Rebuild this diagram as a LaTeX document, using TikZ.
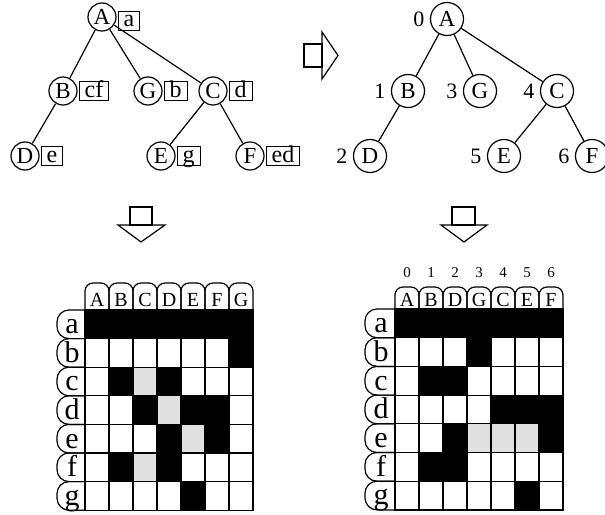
\documentclass[tikz,border=0pt]{standalone}
\usepackage{fontspec}
\setmainfont{Liberation Serif}
\usetikzlibrary{positioning}
\colorlet{cell0}{white}
\colorlet{cell1}{black}
\colorlet{cell2}{black!12}
\begin{document}
\begin{tikzpicture}[x=1pt,y=-1pt,line width=1.2pt,
    vtx/.style={circle,draw,fill=white,inner sep=0pt,minimum size=28pt,font=\fontsize{23}{23}\selectfont},
    bigvtx/.style={vtx,minimum size=33pt},
    tag/.style={draw,inner xsep=5.5pt,inner ysep=0.5pt,text height=15pt,text depth=3pt,font=\fontsize{24}{24}\selectfont},
    idx/.style={label={[inner sep=0pt,label distance=5pt,font=\fontsize{22}{22}\selectfont]left:#1}},
    hdr/.style={anchor=base,inner sep=0pt,font=\fontsize{20}{20}\selectfont},
    rowlbl/.style={anchor=base,inner sep=0pt,font=\fontsize{30}{30}\selectfont}]
    \useasboundingbox (0,0) rectangle (605,514);
    % original tree
    \node[vtx] (A) at (102,17) {A};
    \node[vtx] (B) at (63,91) {B};
    \node[vtx] (G) at (148,91) {G};
    \node[vtx] (C) at (213,91) {C};
    \node[vtx] (D) at (25,156) {D};
    \node[vtx] (E) at (161,156) {E};
    \node[vtx] (F) at (250,156) {F};
    \draw (A) -- (B) (A) -- (G) (A) -- (C) (B) -- (D) (C) -- (E) (C) -- (F);
    \node[tag,right=1pt of A,yshift=-4pt] (tA) {a};
    \node[tag,right=1pt of B] (tB) {cf};
    \node[tag,right=1pt of G] (tG) {b};
    \node[tag,right=1pt of C] (tC) {d};
    \node[tag,right=1pt of D] (tD) {e};
    \node[tag,right=1pt of E] (tE) {g};
    \node[tag,right=1pt of F] (tF) {ed};
    % numbered tree
    \node[bigvtx,idx=0] (nA) at (447,19) {A};
    \node[bigvtx,idx=1] (nB) at (408,91) {B};
    \node[bigvtx,idx=3] (nG) at (480,91) {G};
    \node[bigvtx,idx=4] (nC) at (557,91) {C};
    \node[bigvtx,idx=2] (nD) at (370,156) {D};
    \node[bigvtx,idx=5] (nE) at (504,156) {E};
    \node[bigvtx,idx=6] (nF) at (592,156) {F};
    \draw (nA) -- (nB) (nA) -- (nG) (nA) -- (nC) (nB) -- (nD) (nC) -- (nE) (nC) -- (nF);
    % arrows
    \draw (304,44) rectangle (322,67);
    \draw (322,32) -- (338,55.5) -- (322,79) -- cycle;
    \draw (130,207) rectangle (152,225);
    \draw (118,225) -- (141,242) -- (165,225) -- cycle;
    \draw (452,207) rectangle (475,225);
    \draw (441,225) -- (464,242) -- (487,225) -- cycle;
    % left matrix
    \begin{scope}[shift={(85,310)}]
        \foreach \row [count=\r] in {{1,1,1,1,1,1,1},{0,0,0,0,0,0,1},{0,1,2,1,0,0,0},
                {0,0,1,2,1,1,0},{0,0,0,1,2,1,0},{0,1,2,1,0,0,0},{0,0,0,0,1,0,0}}
            \foreach \v [count=\c] in \row
                \draw[fill=cell\v] ({24*(\c-1)},{28.6*(\r-1)}) rectangle ++(24,28.6);
        \foreach \t [count=\c] in {A,B,C,D,E,F,G}{
            \draw[rounded corners=8pt] ({24*(\c-1)},0) -- ++(0,-27) -- ++(24,0) -- ++(0,27);
            \node[hdr] (lc\c) at ({24*\c-12},-3.5) {\t};
        }
        \foreach \t [count=\r] in {a,b,c,d,e,f,g}{
            \draw[rounded corners=12pt] (0,{28.6*(\r-1)}) -- ++(-28,0) -- ++(0,28.6) -- ++(28,0);
            \node[rowlbl] (lr\r) at (-13,{28.6*\r-5}) {\t};
        }
    \end{scope}
    % right matrix
    \begin{scope}[shift={(395,309)}]
        \foreach \row [count=\r] in {{1,1,1,1,1,1,1},{0,0,0,1,0,0,0},{0,1,1,0,0,0,0},
                {0,0,0,0,1,1,1},{0,0,1,2,2,2,1},{0,1,1,0,0,0,0},{0,0,0,0,0,1,0}}
            \foreach \v [count=\c] in \row
                \draw[fill=cell\v] ({24*(\c-1)},{28.7*(\r-1)}) rectangle ++(24,28.7);
        \foreach \t [count=\c] in {A,B,D,G,C,E,F}{
            \draw[rounded corners=8pt] ({24*(\c-1)},0) -- ++(0,-22) -- ++(24,0) -- ++(0,22);
            \node[hdr] (rc\c) at ({24*\c-12},-3) {\t};
            \node[font=\fontsize{15}{15}\selectfont,inner sep=0pt] (rn\c) at ({24*\c-12},-36) {\the\numexpr\c-1\relax};
        }
        \foreach \t [count=\r] in {a,b,c,d,e,f,g}{
            \draw[rounded corners=12pt] (0,{28.7*(\r-1)}) -- ++(-30,0) -- ++(0,28.7) -- ++(30,0);
            \node[rowlbl] (rr\r) at (-14,{28.7*\r-5}) {\t};
        }
    \end{scope}
\end{tikzpicture}
\end{document}
